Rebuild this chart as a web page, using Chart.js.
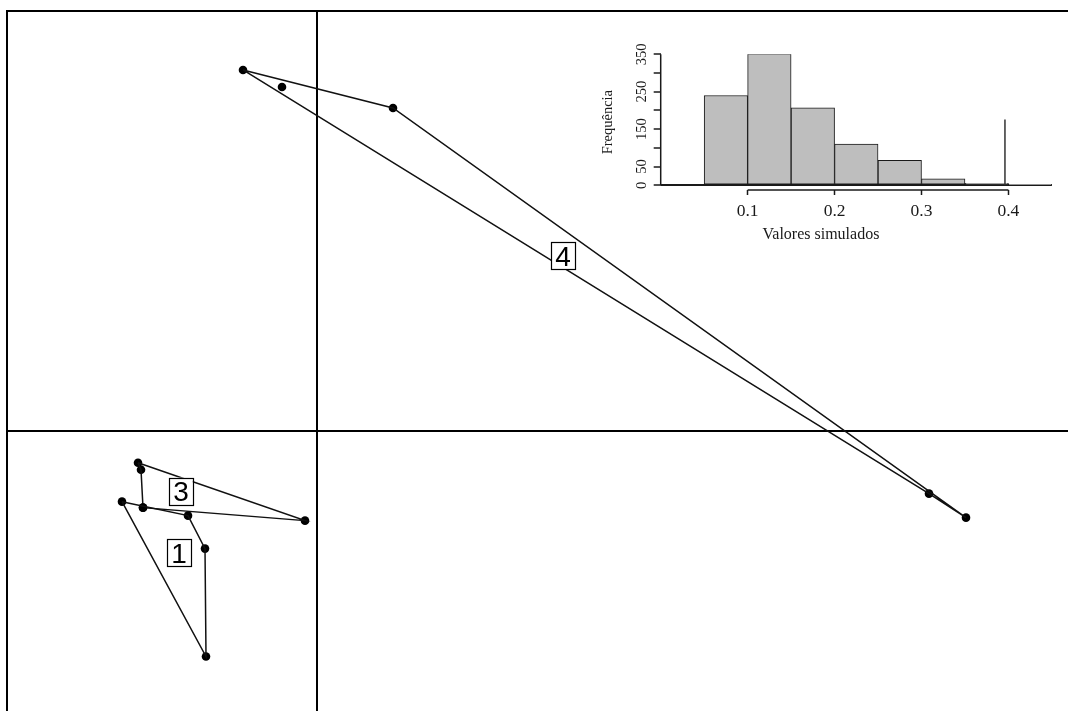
<!DOCTYPE html>
<html>
<head>
<meta charset="utf-8">
<script src="https://cdn.jsdelivr.net/npm/chart.js@4.4.1/dist/chart.umd.min.js"></script>
<style>
  html, body { margin: 0; padding: 0; background: #fff; overflow: hidden; }
  #wrap { position: relative; width: 1068px; height: 711px; overflow: hidden; }
  #mainChart { position: absolute; left: 0; top: 0; }
  #histChart { position: absolute; left: 590px; top: 30px; }
</style>
</head>
<body>
<div id="wrap">
  <canvas id="mainChart" width="1068" height="711"></canvas>
  <canvas id="histChart" width="486" height="230"></canvas>
</div>
<script>
// --- dados: pontos de cada grupo (plano fatorial) ---
const group1X = [-1.95, -1.74, -1.29, -1.12, -1.11];
const group1Y = [-0.71, -0.77, -0.85, -1.18, -2.26];
const group1Hull = [0, 2, 3, 4];

const group3X = [-1.79, -1.76, -1.74, -0.12];
const group3Y = [-0.32, -0.39, -0.77, -0.90];
const group3Hull = [0, 3, 2, 1];

const group4X = [-0.74, -0.35, 0.76, 6.12, 6.49];
const group4Y = [3.61, 3.44, 3.23, -0.63, -0.87];
const group4Hull = [0, 2, 4, 3];

const groupNames = ['1', '3', '4'];
const labelX = [-1.38, -1.36, 2.46];
const labelY = [-1.22, -0.605, 1.75];

// --- histograma dos valores simulados ---
const histBinMids = [0.025, 0.075, 0.125, 0.175, 0.225, 0.275, 0.325, 0.375, 0.425];
const histCounts = [0, 240, 352, 207, 110, 67, 17, 5, 1];
const observedValue = 0.396;
const observedHeight = 176;
const histXTicks = [0.1, 0.2, 0.3, 0.4];
const histYTicks = [0, 50, 100, 150, 200, 250, 300, 350];
const histYLabels = [0, 50, 150, 250, 350];

const INK = '#1a1a1a';
const SERIF = '"Liberation Serif", "DejaVu Serif", serif';

// --- mapa com os polígonos ---
const groups = [
    { x: group1X, y: group1Y, hull: group1Hull },
    { x: group3X, y: group3Y, hull: group3Hull },
    { x: group4X, y: group4Y, hull: group4Hull }
];

const mainDatasets = [];
groups.forEach(g => {
    const pts = g.x.map((v, i) => ({ x: v, y: g.y[i] }));
    const hullPts = g.hull.map(i => pts[i]);
    hullPts.push(pts[g.hull[0]]);
    mainDatasets.push({
        data: hullPts, showLine: true, borderColor: '#111', borderWidth: 1.5,
        pointRadius: 0, fill: false, tension: 0
    });
    mainDatasets.push({
        data: pts, showLine: false, pointRadius: 4.3,
        pointBackgroundColor: '#000', pointBorderColor: '#000', pointBorderWidth: 0
    });
});

const zeroOnly = c => (c.tick && Math.abs(c.tick.value) < 1e-9) ? '#000' : 'rgba(0,0,0,0)';

const groupLabels = {
    id: 'groupLabels',
    afterDatasetsDraw(chart) {
        const { ctx, scales: { x, y } } = chart;
        ctx.save();
        ctx.font = '28px "Liberation Sans", Arial, sans-serif';
        ctx.textAlign = 'center';
        ctx.textBaseline = 'alphabetic';
        groupNames.forEach((t, i) => {
            const px = x.getPixelForValue(labelX[i]);
            const py = y.getPixelForValue(labelY[i]);
            const w = ctx.measureText(t).width + 8;
            const h = 27;
            ctx.fillStyle = '#fff';
            ctx.fillRect(px - w / 2, py - h / 2, w, h);
            ctx.strokeStyle = '#000';
            ctx.lineWidth = 1.2;
            ctx.strokeRect(Math.round(px - w / 2) + 0.5, Math.round(py - h / 2) + 0.5, Math.round(w), h);
            ctx.fillStyle = '#000';
            ctx.fillText(t, px, py + 10);
        });
        ctx.restore();
    }
};

new Chart(document.getElementById('mainChart'), {
    type: 'scatter',
    data: { datasets: mainDatasets },
    options: {
        responsive: false, animation: false, devicePixelRatio: 1,
        layout: { autoPadding: false, padding: { left: 7, top: 11, right: 0, bottom: 0 } },
        plugins: { legend: { display: false }, tooltip: { enabled: false } },
        scales: {
            x: {
                type: 'linear', position: 'top', min: -3.1, max: 7.51,
                ticks: { display: false, stepSize: 1, includeBounds: false },
                grid: { drawTicks: false, color: zeroOnly, lineWidth: 2 },
                border: { display: true, color: '#000', width: 2 }
            },
            y: {
                type: 'linear', position: 'left', min: -2.805, max: 4.2,
                ticks: { display: false, stepSize: 1, includeBounds: false },
                grid: { drawTicks: false, color: zeroOnly, lineWidth: 2 },
                border: { display: true, color: '#000', width: 2 }
            }
        }
    },
    plugins: [groupLabels]
});

// --- eixos estilo R no histograma ---
const isXTick = v => histXTicks.some(t => Math.abs(t - v) < 1e-9);

const rAxes = {
    id: 'rAxes',
    afterDraw(chart) {
        const { ctx, scales: { x, y }, chartArea } = chart;
        ctx.save();
        ctx.strokeStyle = INK;
        ctx.lineWidth = 1.5;
        ctx.beginPath();
        ctx.moveTo(x.getPixelForValue(histXTicks[0]), chartArea.bottom);
        ctx.lineTo(x.getPixelForValue(histXTicks[histXTicks.length - 1]), chartArea.bottom);
        ctx.moveTo(chartArea.left, y.getPixelForValue(histYTicks[0]));
        ctx.lineTo(chartArea.left, y.getPixelForValue(histYTicks[histYTicks.length - 1]));
        ctx.stroke();
        ctx.restore();
    }
};

new Chart(document.getElementById('histChart'), {
    type: 'bar',
    data: {
        datasets: [{
            type: 'bar',
            data: histBinMids.map((m, i) => ({ x: m, y: histCounts[i] })),
            backgroundColor: '#bebebe', borderColor: INK, borderWidth: 1,
            borderSkipped: false, barPercentage: 1, categoryPercentage: 1, order: 2
        }, {
            type: 'line',
            data: [{ x: observedValue, y: 0 }, { x: observedValue, y: observedHeight }],
            borderColor: '#333', borderWidth: 1.5, pointRadius: 0, order: 1
        }]
    },
    options: {
        responsive: false, animation: false, devicePixelRatio: 1,
        layout: { autoPadding: false, padding: { left: 0, top: 24.3, right: 24.1, bottom: 0 } },
        plugins: {
            legend: { display: false }, tooltip: { enabled: false },
            title: {
                display: true, position: 'bottom', text: 'Valores simulados', color: INK,
                font: { family: SERIF, size: 16, weight: 'normal' },
                padding: { top: 0, bottom: 15.6 }
            }
        },
        scales: {
            x: {
                type: 'linear', min: 0, max: 0.45, offset: false,
                afterFit: s => { s.height = 35.2; },
                ticks: {
                    stepSize: 0.1, includeBounds: false, autoSkip: false, maxRotation: 0,
                    padding: 6, color: INK, font: { family: SERIF, size: 17.5 },
                    callback: v => isXTick(v) ? v.toFixed(1) : ''
                },
                grid: {
                    offset: false, drawOnChartArea: false, tickLength: 5, tickWidth: 1.5,
                    tickColor: c => (c.tick && isXTick(c.tick.value)) ? INK : 'rgba(0,0,0,0)'
                },
                border: { display: false }
            },
            y: {
                type: 'linear', min: -12.6, max: 350,
                afterFit: s => { s.width = 70.7; },
                ticks: {
                    stepSize: 50, includeBounds: false, autoSkip: false,
                    minRotation: 90, maxRotation: 90, crossAlign: 'center', padding: 1,
                    color: INK, font: { family: SERIF, size: 14.5 },
                    callback: v => histYLabels.includes(v) ? String(v) : ''
                },
                grid: {
                    color: c => (c.tick && c.tick.value === 0) ? INK : 'rgba(0,0,0,0)',
                    lineWidth: 2, tickLength: 7, tickWidth: 1.5,
                    tickColor: c => (c.tick && c.tick.value >= 0) ? INK : 'rgba(0,0,0,0)'
                },
                border: { display: false },
                title: {
                    display: true, text: 'Frequência', color: INK,
                    font: { family: SERIF, size: 14.5 }, padding: { top: 9.6, bottom: 0 }
                }
            }
        }
    },
    plugins: [rAxes]
});
</script>
</body>
</html>
